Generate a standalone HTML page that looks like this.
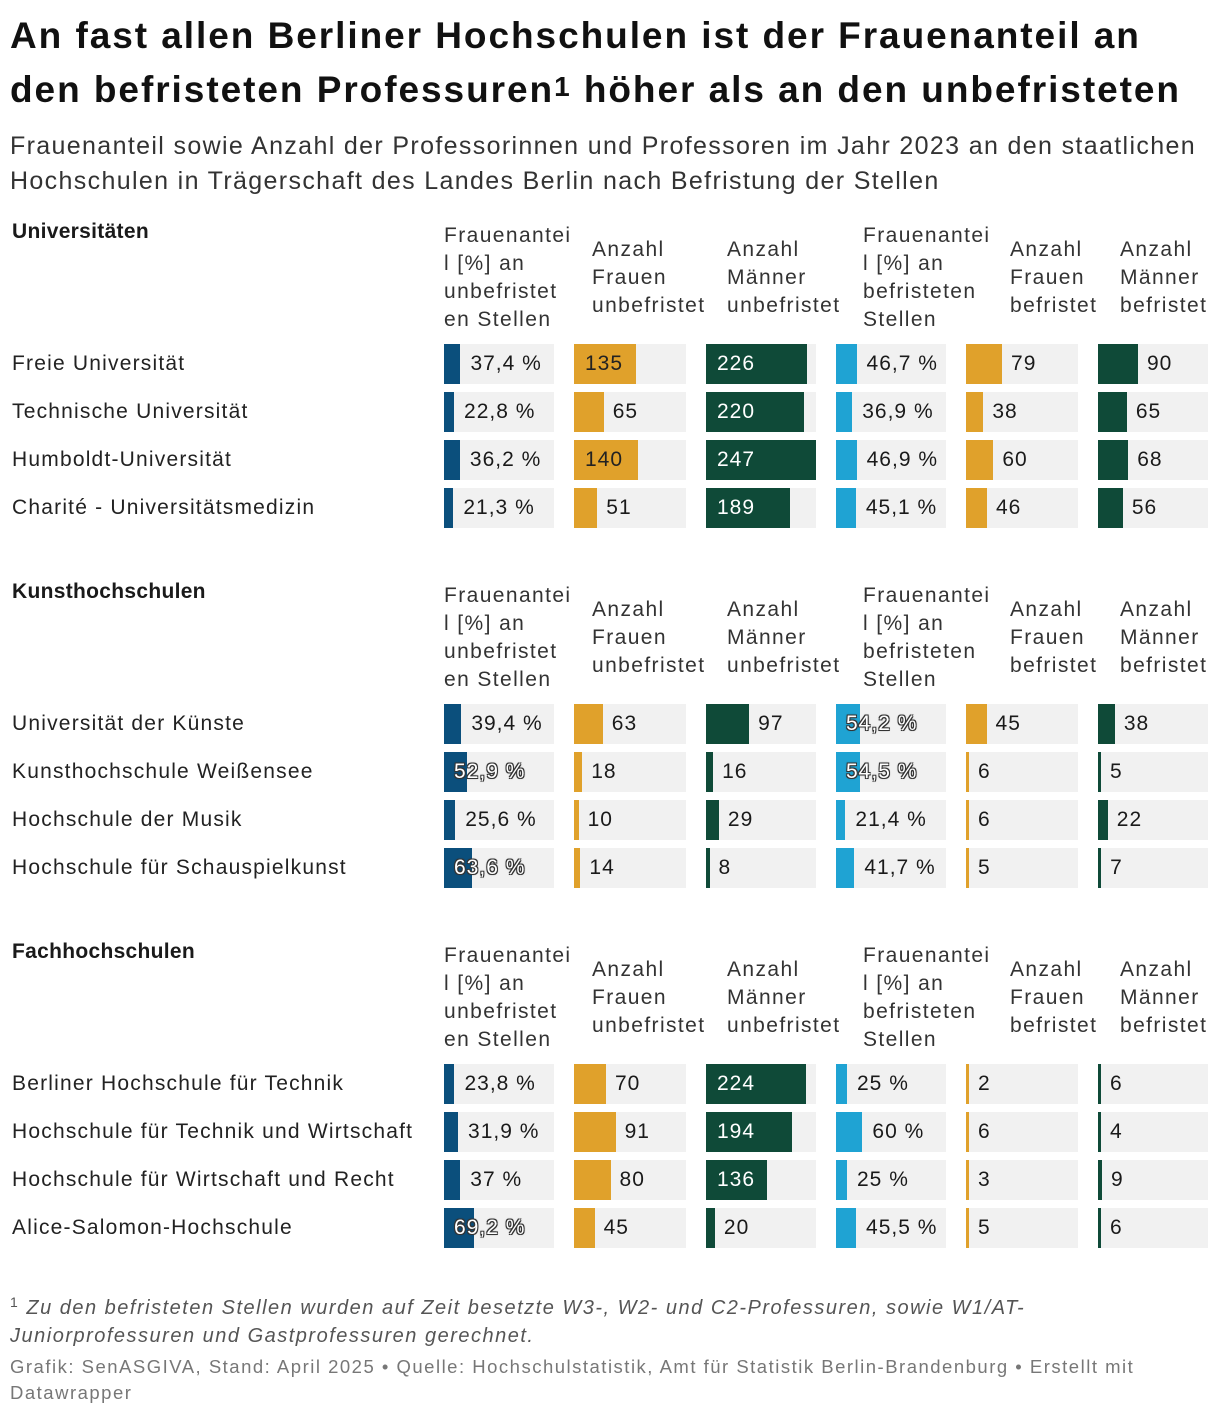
<!DOCTYPE html>
<html><head><meta charset="utf-8">
<style>
body{margin:0;width:1220px;height:1416px;background:#fff;font-family:"Liberation Sans",Arial,sans-serif;color:#1a1a1a;position:relative;overflow:hidden}
.a{position:absolute;white-space:nowrap}
h1{position:absolute;left:10px;top:10px;margin:0;font-size:37px;line-height:51px;font-weight:bold;color:#111;letter-spacing:1.95px}
.sub{left:10px;top:129px;font-size:25px;line-height:35px;color:#333;letter-spacing:1.35px}
.sec{font-size:21px;font-weight:bold;left:12px;letter-spacing:0.3px}
.hd{font-size:21px;line-height:28px;color:#333;letter-spacing:1.4px}
.nm{font-size:21px;left:12px;color:#222;letter-spacing:1.2px}
.cell{position:absolute;height:40px;background:#f1f1f1}
.bar{position:absolute;top:0;height:40px}
.v{position:absolute;font-size:21px;line-height:40px;top:0;letter-spacing:1px}
.foot{left:10px;top:1288px;font-size:20px;line-height:28px;font-style:italic;color:#555;letter-spacing:1.5px}
.src{left:10px;top:1354px;font-size:18.5px;line-height:26px;color:#777;letter-spacing:1.5px}
</style></head><body>
<h1>An fast allen Berliner Hochschulen ist der Frauenanteil an<br>den befristeten Professuren<span style="font-size:28px;vertical-align:6px">1</span> höher als an den unbefristeten</h1>
<div class="a sub">Frauenanteil sowie Anzahl der Professorinnen und Professoren im Jahr 2023 an den staatlichen<br>Hochschulen in Trägerschaft des Landes Berlin nach Befristung der Stellen</div>
<div id="tbl"></div>
<div class="a foot"><span style="font-size:14px;vertical-align:7px;font-style:normal">1</span> Zu den befristeten Stellen wurden auf Zeit besetzte W3-, W2- und C2-Professuren, sowie W1/AT-<br>Juniorprofessuren und Gastprofessuren gerechnet.</div>
<div class="a src">Grafik: SenASGIVA, Stand: April 2025 • Quelle: Hochschulstatistik, Amt für Statistik Berlin-Brandenburg • Erstellt mit<br>Datawrapper</div>
<script>
const sections=["Universitäten","Kunsthochschulen","Fachhochschulen"];
const names=[["Freie Universität","Technische Universität","Humboldt-Universität","Charité - Universitätsmedizin"],
["Universität der Künste","Kunsthochschule Weißensee","Hochschule der Musik","Hochschule für Schauspielkunst"],
["Berliner Hochschule für Technik","Hochschule für Technik und Wirtschaft","Hochschule für Wirtschaft und Recht","Alice-Salomon-Hochschule"]];
const pctUnbef=[[37.4,22.8,36.2,21.3],[39.4,52.9,25.6,63.6],[23.8,31.9,37,69.2]];
const fUnbef=[[135,65,140,51],[63,18,10,14],[70,91,80,45]];
const mUnbef=[[226,220,247,189],[97,16,29,8],[224,194,136,20]];
const pctBef=[[46.7,36.9,46.9,45.1],[54.2,54.5,21.4,41.7],[25,60,25,45.5]];
const fBef=[[79,38,60,46],[45,6,6,5],[2,6,3,5]];
const mBef=[[90,65,68,56],[38,5,22,7],[6,4,9,6]];
const headers=["Frauenantei|l [%] an|unbefristet|en Stellen","Anzahl|Frauen|unbefristet","Anzahl|Männer|unbefristet","Frauenantei|l [%] an|befristeten|Stellen","Anzahl|Frauen|befristet","Anzahl|Männer|befristet"];
const colX=[444,574,706,836,966,1098],colW=[110,112,110,110,112,110],hdX=[444,592,727,863,1010,1120];
const colors=["#0b4f7c","#e0a12b","#0f4a38","#1fa3d3","#e0a12b","#0f4a38"];
const scales=[v=>v*0.44,v=>v*0.457,v=>v*0.445,v=>v*0.44,v=>v*0.456,v=>v*0.444];
const T=document.getElementById('tbl');
function fmt(v){return String(v).replace('.',',')+' %';}
sections.forEach((s,si)=>{
  const off=si*360;
  const sh=document.createElement('div');sh.className='a sec';sh.style.top=(220+off)+'px';sh.textContent=s;
  
  
  T.appendChild(sh);
  headers.forEach((h,ci)=>{
    const lines=h.split('|');
    const d=document.createElement('div');d.className='a hd';
    d.style.left=hdX[ci]+'px';d.style.top=(222+off+(4-lines.length)*14)+'px';
    d.innerHTML=lines.join('<br>');
    
    
    T.appendChild(d);
  });
  const data=[pctUnbef[si],fUnbef[si],mUnbef[si],pctBef[si],fBef[si],mBef[si]];
  names[si].forEach((n,ri)=>{
    const y=344+off+ri*48;
    const nd=document.createElement('div');nd.className='a nm';nd.style.top=(y+8)+'px';nd.textContent=n;
    
    
    T.appendChild(nd);
    data.forEach((arr,ci)=>{
      const v=arr[ri];
      const c=document.createElement('div');c.className='cell';
      c.style.left=colX[ci]+'px';c.style.top=y+'px';c.style.width=colW[ci]+'px';
      
      
      const b=document.createElement('div');b.className='bar';
      const w=Math.max(3,scales[ci](v));
      b.style.width=w+'px';b.style.background=colors[ci];
      
      
      c.appendChild(b);
      const t=document.createElement('div');t.className='v';
      const pct=(ci===0||ci===3);
      t.textContent=pct?fmt(v):v;
      if(pct){
        if(v>=50 && !Number.isInteger(v)){t.style.left='10px';t.style.color='#fff';t.style.textShadow='1px 1px 0 #333,-1px -1px 0 #333,1px -1px 0 #333,-1px 1px 0 #333,0 0 2px #333';}
        else {t.style.left=(w+10)+'px';}
      } else {
        if(w>=50){t.style.left='11px';t.style.color=(ci===2||ci===5)?'#fff':'#222';}
        else t.style.left=(w+9)+'px';
      }
      
      
      c.appendChild(t);
      T.appendChild(c);
    });
  });
});
</script>
</body></html>
